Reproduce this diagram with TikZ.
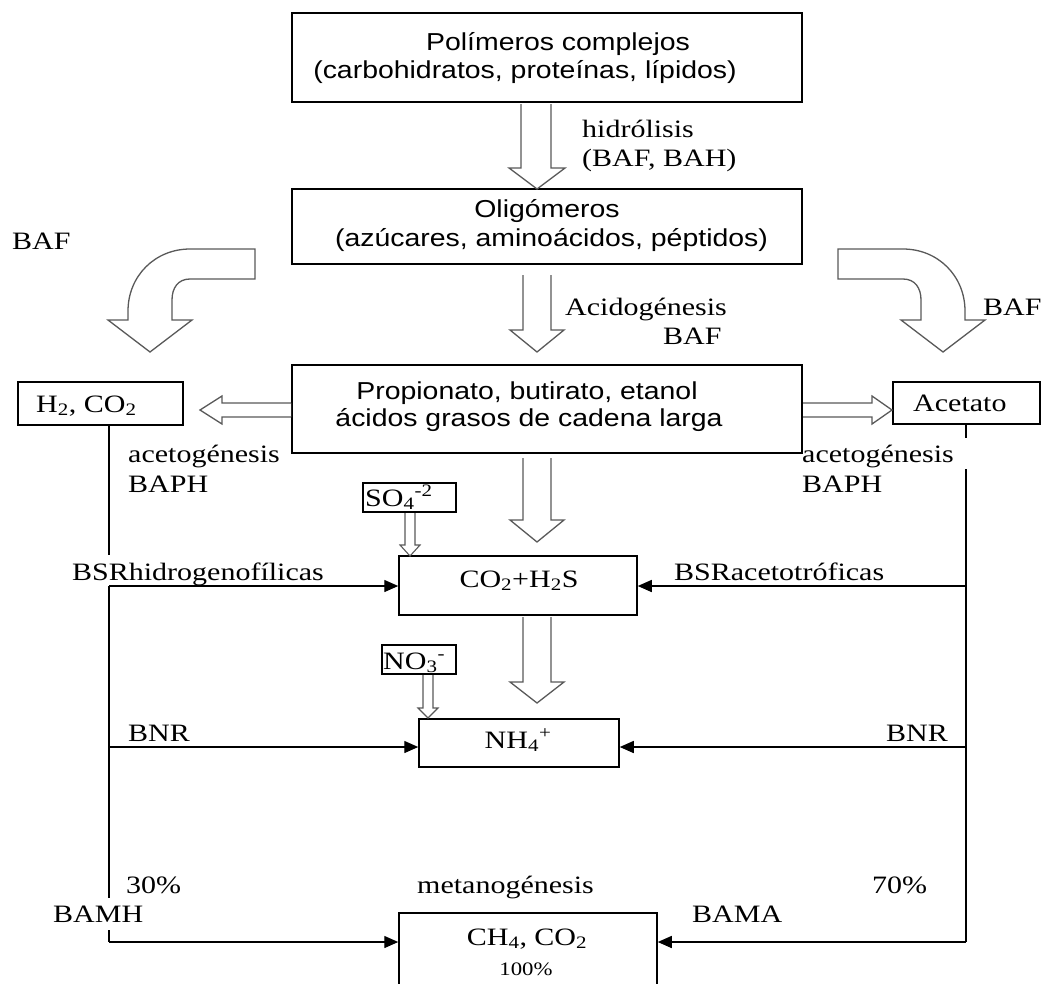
\documentclass[tikz,border=0pt]{standalone}
\usepackage{fontspec}
\setmainfont[FakeStretch=1.2]{Liberation Serif}
\newfontfamily\arialf[FakeStretch=1.16]{Liberation Sans}
\usetikzlibrary{arrows.meta}
\begin{document}
\begin{tikzpicture}[x=1pt,y=-1pt,
  box/.style={draw,line width=1.5pt,inner sep=0pt,rectangle},
  sans/.style={font={\arialf\fontsize{24.5}{29}\selectfont},inner sep=0pt,anchor=base},
  ser/.style={font={\fontsize{25}{30}\selectfont},inner sep=0pt,anchor=base west},
  serc/.style={font={\fontsize{25}{30}\selectfont},inner sep=0pt,anchor=base},
  hollow/.style={draw=black!65,line width=1.3pt,fill=white,line join=miter},
  conn/.style={line width=1.4pt},
  arr/.style={conn,-{Triangle[length=14pt,width=12pt]}}]
\useasboundingbox (0,0) rectangle (1043,983);
\clip (0,0) rectangle (1043,983);

% boxes
\node[box,minimum width=510pt,minimum height=89pt] (b1) at (547,57.5) {};
\node[box,minimum width=510pt,minimum height=75pt] (b2) at (547,226.5) {};
\node[box,minimum width=510pt,minimum height=88pt] (b3) at (547,409) {};
\node[box,minimum width=165pt,minimum height=43pt] (h2) at (100.5,403.5) {};
\node[box,minimum width=147pt,minimum height=42pt] (ac) at (966.5,403) {};
\node[box,minimum width=93pt,minimum height=29pt] (so4) at (409.5,497.5) {};
\node[box,minimum width=238pt,minimum height=59pt] (co2) at (518,585.5) {};
\node[box,minimum width=74pt,minimum height=29pt] (no3) at (419,659.5) {};
\node[box,minimum width=200pt,minimum height=48pt] (nh4) at (519,743) {};
\node[box,minimum width=258pt,minimum height=90pt] (ch4) at (528,958) {};

% box texts
\node[sans] (t1a) at (558,50) {Polímeros complejos};
\node[sans] (t1b) at (525,78) {(carbohidratos, proteínas, lípidos)};
\node[sans] (t2a) at (547,217) {Oligómeros};
\node[sans] (t2b) at (551.5,246) {(azúcares, aminoácidos, péptidos)};
\node[sans] (t3a) at (527,399) {Propionato, butirato, etanol};
\node[sans] (t3b) at (529,426) {ácidos grasos de cadena larga};
\node[ser] (th2) at (36,412) {H\textsubscript{2}, CO\textsubscript{2}};
\node[ser] (tac) at (913,411) {Acetato};
\node[ser] (tso4) at (365,506) {SO\textsubscript{4}\textsuperscript{-2}};
\node[serc] (tco2) at (519,587) {CO\textsubscript{2}+H\textsubscript{2}S};
\node[ser] (tno3) at (383,669) {NO\textsubscript{3}\textsuperscript{-}};
\node[serc] (tnh4) at (518,748) {NH\textsubscript{4}\textsuperscript{+}};
\node[serc] (tch4) at (527,945) {CH\textsubscript{4}, CO\textsubscript{2}};
\node[serc,font={\fontsize{19}{22}\selectfont}] (t100) at (526,975) {100\%};

% hollow block arrows
\draw[hollow] (521,104) -- (521,168) -- (509,168) -- (537,189) -- (565,168) -- (551,168) -- (551,104);
\draw[hollow] (523,275) -- (523,330) -- (510,330) -- (537,352) -- (564,330) -- (551,330) -- (551,275);
\draw[hollow] (523,458) -- (523,520) -- (510,520) -- (537,542) -- (564,520) -- (551,520) -- (551,458);
\draw[hollow] (523,617) -- (523,682) -- (510,682) -- (537,703) -- (564,682) -- (551,682) -- (551,617);
\draw[hollow] (291,403) -- (222,403) -- (222,396) -- (200,410) -- (222,424) -- (222,417) -- (291,417);
\draw[hollow] (803,403) -- (872,403) -- (872,396) -- (892,410) -- (872,424) -- (872,417) -- (803,417);
\draw[hollow,line width=1.1pt] (405,513) -- (405,545) -- (400,545) -- (410,556) -- (420,545) -- (415,545) -- (415,513);
\draw[hollow,line width=1.1pt] (423,675) -- (423,708) -- (418,708) -- (428,718) -- (438,708) -- (433,708) -- (433,675);
% curved block arrows
\draw[hollow] (255,249) -- (190,249) .. controls (155,249) and (128,276) .. (128,311) -- (128,320) -- (108,320) -- (150,352) -- (192,320) -- (172,320) -- (172,300) .. controls (172,288) and (178,279) .. (190,279) -- (255,279) -- cycle;
\draw[hollow] (838,249) -- (903,249) .. controls (938,249) and (965,276) .. (965,311) -- (965,320) -- (985,320) -- (943,352) -- (901,320) -- (921,320) -- (921,300) .. controls (921,288) and (915,279) .. (903,279) -- (838,279) -- cycle;

% trunk coordinates
\coordinate (lt) at (109,555);
\coordinate (lsr) at (109,586);
\coordinate (lnr) at (109,747);
\coordinate (lbot) at (109,942);
\coordinate (rt) at (966,438);
\coordinate (rb) at (966,469);
\coordinate (rsr) at (966,586);
\coordinate (rnr) at (966,747);
\coordinate (rbot) at (966,942);

% connectors
\draw[conn] (h2.south -| lt) -- (lt);
\draw[conn] (lsr) -- (lbot);
\draw[arr] (lsr) -- (lsr -| co2.west);
\draw[arr] (lnr) -- (lnr -| nh4.west);
\draw[arr] (lbot) -- (lbot -| ch4.west);
\draw[conn] (ac.south -| rt) -- (rt);
\draw[conn] (rb) -- (rbot);
\draw[arr] (rsr) -- (rsr -| co2.east);
\draw[arr] (rnr) -- (rnr -| nh4.east);
\draw[arr] (rbot) -- (rbot -| ch4.east);

% labels
\node[ser] (lhid) at (582,137) {hidrólisis};
\node[ser] (lbafbah) at (582,166) {(BAF, BAH)};
\node[ser] (lacid) at (565,315) {Acidogénesis};
\node[ser] (lbafa) at (663,344) {BAF};
\node[ser] (lbafl) at (12,249) {BAF};
\node[ser] (lbafr) at (983,315) {BAF};
\node[ser] (lacetl) at (128,462) {acetogénesis};
\node[ser] (lbaphl) at (128,492) {BAPH};
\node[ser] (lacetr) at (802,462) {acetogénesis};
\node[ser] (lbaphr) at (802,492) {BAPH};
\node[ser] (lbsrh) at (72,580) {BSRhidrogenofílicas};
\node[ser] (lbsra) at (674,580) {BSRacetotróficas};
\node[ser] (lbnrl) at (128,741) {BNR};
\node[ser] (lbnrr) at (886,741) {BNR};
\node[ser] (l30) at (126,893) {30\%};
\node[ser] (lmet) at (417,893) {metanogénesis};
\node[ser] (l70) at (872,893) {70\%};
\node[ser,fill=white,inner ysep=8pt] (lbamh) at (53,922) {BAMH};
\node[ser] (lbama) at (692,922) {BAMA};
\end{tikzpicture}
\end{document}
